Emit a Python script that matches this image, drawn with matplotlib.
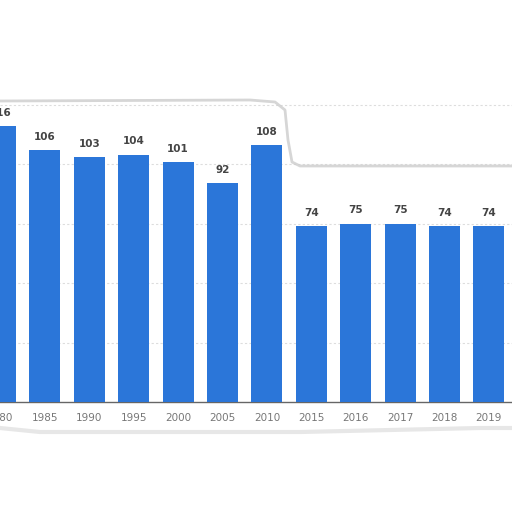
import numpy as np
import matplotlib.pyplot as plt
from matplotlib.lines import Line2D

# =====================================
# Data
# =====================================

years = ["1980", "1985", "1990", "1995", "2000", "2005",
         "2010", "2015", "2016", "2017", "2018", "2019"]
values = [116, 106, 103, 104, 101, 92, 108, 74, 75, 75, 74, 74]

# =====================================
# Plot
# =====================================

fig = plt.figure(figsize=(5.12, 5.12), dpi=100)
fig.patch.set_facecolor("white")

ax = fig.add_axes([0, 402 / 512 * 0 + (512 - 402) / 512, 1, 302 / 512])

x = np.arange(len(years))
bars = ax.bar(x, values, width=0.7, color="#2b76d9", zorder=3)

for xi, v in zip(x, values):
    ax.text(xi, v + 3.5, str(v), ha="center", va="bottom",
            fontsize=7.5, fontweight="bold", color="#444444", zorder=4)

ax.set_xlim(-0.011, 11.52)
ax.set_ylim(0, 127)

ax.set_yticks([25, 50, 75, 100, 125])
ax.yaxis.grid(True, color="#dddddd", linestyle=(0, (2, 2)), linewidth=0.8, zorder=0)
ax.tick_params(axis="y", left=False, labelleft=False)

ax.set_xticks(x)
ax.set_xticklabels(years, fontsize=7.5, color="#777777")
ax.tick_params(axis="x", length=0, pad=8)

for side in ["top", "right", "left"]:
    ax.spines[side].set_visible(False)
ax.spines["bottom"].set_color("#666666")
ax.spines["bottom"].set_linewidth(1.0)
ax.set_facecolor("white")

# faint edge of the torn screenshot
edge_x = np.array([0, 250, 275, 285, 288, 292, 300, 512]) / 512
edge_y = 1 - np.array([101, 100, 102, 110, 140, 162, 166, 166]) / 512
fig.add_artist(Line2D(edge_x, edge_y, color="#cccccc", linewidth=2.0, alpha=0.8))
low_x = np.array([0, 40, 300, 480, 512]) / 512
low_y = 1 - np.array([428, 432, 432, 428, 428]) / 512
fig.add_artist(Line2D(low_x, low_y, color="#dddddd", linewidth=3.0, alpha=0.7))

fig.savefig("out.png", dpi=100, facecolor="white")
